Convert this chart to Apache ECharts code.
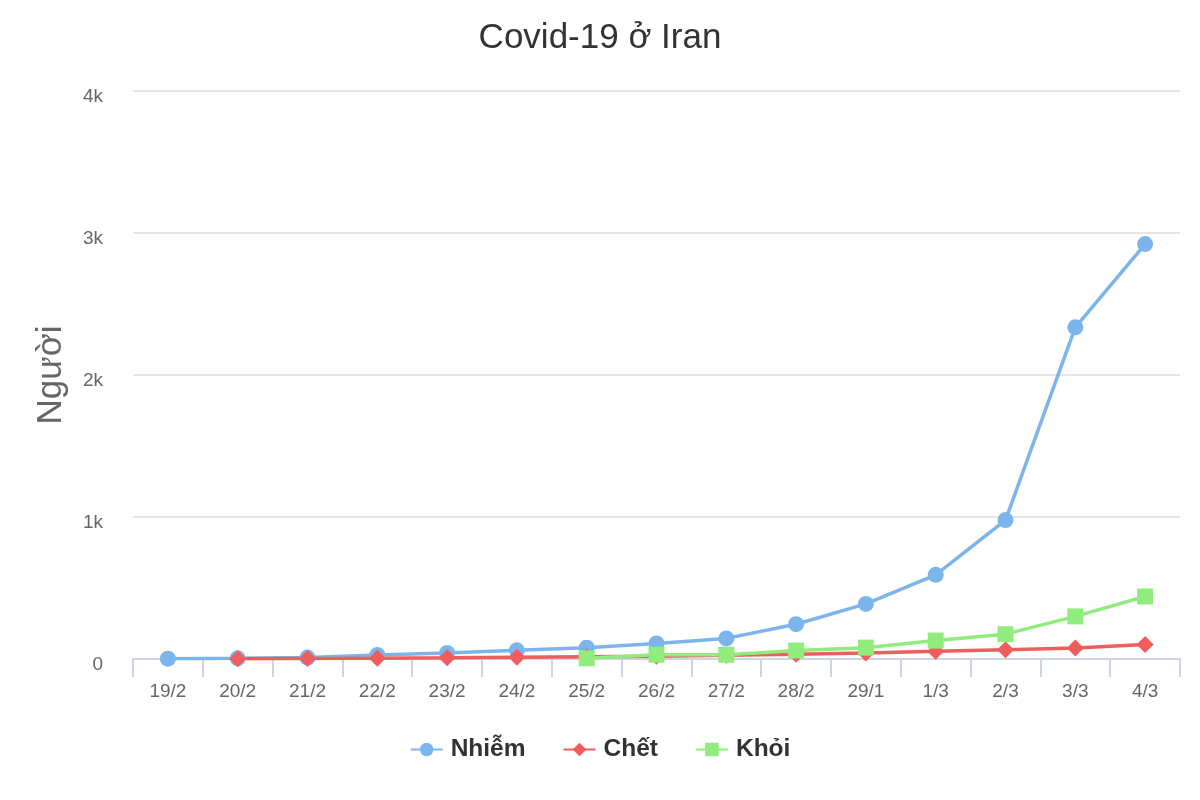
<!DOCTYPE html>
<html>
<head>
<meta charset="utf-8">
<script src="https://cdn.jsdelivr.net/npm/echarts@6/dist/echarts.min.js"></script>
<style>html,body{margin:0;padding:0;background:#fff}#c{width:1200px;height:800px}</style>
</head>
<body>
<div id="c"></div>
<script>
const categories = ['19/2','20/2','21/2','22/2','23/2','24/2','25/2','26/2','27/2','28/2','29/1','1/3','2/3','3/3','4/3'];
const infected = [2, 5, 10, 28, 43, 61, 80, 110, 145, 245, 388, 593, 978, 2336, 2922];
const deaths = [null, 2, 4, 5, 8, 12, 16, 19, 26, 34, 43, 54, 66, 77, 102];
const recovered = [null, null, null, null, null, null, 5, 30, 30, 60, 80, 130, 175, 300, 440];
const seriesNames = ['Nhiễm', 'Chết', 'Khỏi'];
const titleText = 'Covid-19 ở Iran';
const yAxisName = 'Người';

const FONT = '"Liberation Sans", Arial, sans-serif';
const chart = echarts.init(document.getElementById('c'));
chart.setOption({
  animation: false,
  backgroundColor: '#fff',
  textStyle: { fontFamily: FONT },
  title: {
    text: titleText, left: 'center', top: 16,
    textStyle: { fontFamily: FONT, fontSize: 35, fontWeight: 'normal', color: '#333' }
  },
  legend: {
    bottom: 33, left: 'center', itemGap: 37, itemWidth: 32, itemHeight: 17,
    textStyle: { fontFamily: FONT, fontSize: 24.5, fontWeight: 'bold', color: '#333', padding: [0, 0, 0, 3] },
    data: seriesNames
  },
  grid: { left: 133, right: 20, top: 91, bottom: 141 },
  xAxis: {
    type: 'category', data: categories, boundaryGap: true,
    axisLine: { lineStyle: { color: '#ccd6eb', width: 2 } },
    axisTick: { show: true, length: 18, lineStyle: { color: '#ccd6eb', width: 2 } },
    axisLabel: { margin: 23, fontSize: 19, color: '#666', fontFamily: FONT }
  },
  yAxis: {
    type: 'value', min: 0, max: 4000, interval: 1000,
    name: yAxisName, nameLocation: 'middle', nameRotate: 90, nameGap: 64,
    nameTextStyle: { fontSize: 35, color: '#666', fontFamily: FONT },
    axisLine: { show: false }, axisTick: { show: false },
    splitLine: { lineStyle: { color: '#e6e6e6', width: 2 } },
    axisLabel: { margin: 30, fontSize: 19, color: '#666', fontFamily: FONT,
      verticalAlign: 'top', lineHeight: 12,
      formatter: v => v === 0 ? '0' : (v / 1000) + 'k' }
  },
  series: [
    { name: seriesNames[0], type: 'line', data: infected, symbol: 'circle', symbolSize: 16,
      color: '#7cb5ec', lineStyle: { width: 3.5 } },
    { name: seriesNames[1], type: 'line', data: deaths, symbol: 'diamond', symbolSize: 17,
      color: '#f15c5c', lineStyle: { width: 3.5 } },
    { name: seriesNames[2], type: 'line', data: recovered, symbol: 'rect', symbolSize: 16,
      color: '#90ed7d', lineStyle: { width: 3.5 } }
  ]
});
</script>
</body>
</html>
